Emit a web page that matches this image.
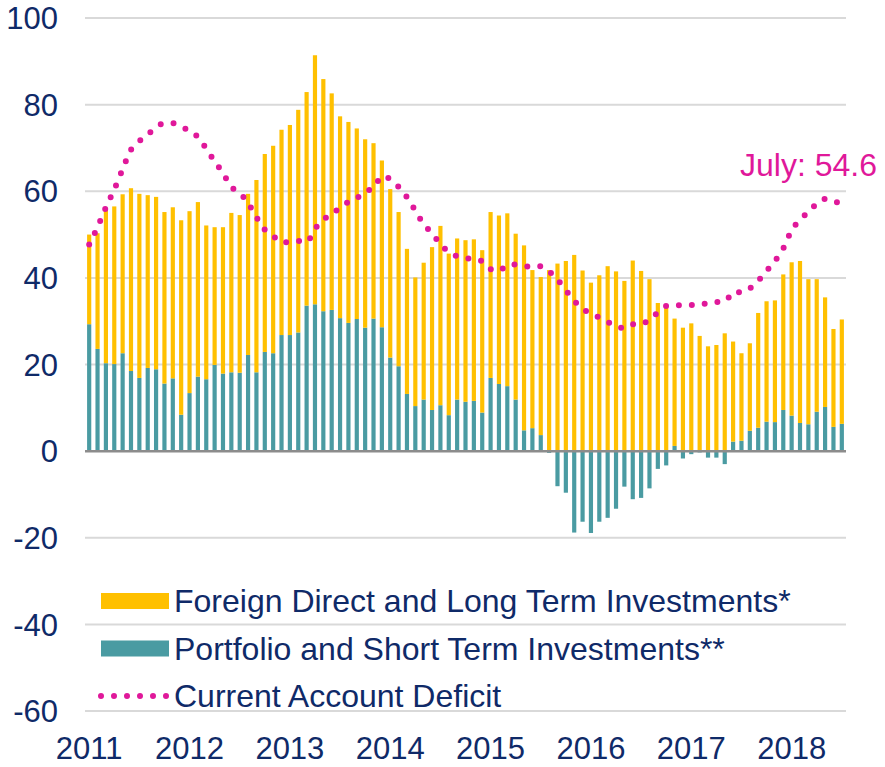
<!DOCTYPE html>
<html>
<head>
<meta charset="utf-8">
<script src="https://cdn.jsdelivr.net/npm/d3@7"></script>
<style>
  body { margin: 0; background: #fff; }
  text { font-family: 'Liberation Sans', Arial, sans-serif; }
</style>
</head>
<body>
<div id="chart"></div>
<script>
// monthly, Jan 2011 .. Jul 2018
const years = ['2011', '2012', '2013', '2014', '2015', '2016', '2017', '2018'];
const yTicks = [-60, -40, -20, 0, 20, 40, 60, 80, 100];

const fdi = [
  20.7, 26.7, 35.7, 36.4, 36.7, 42.2, 42.5, 39.9, 39.8, 39.6, 39.5, 44.9,
  42.0, 40.3, 35.5, 31.8, 33.8, 36.8, 36.4, 37.2, 44.4, 45.7, 47.9, 47.4,
  48.5, 51.4, 49.3, 57.5, 53.6, 50.0, 46.6, 46.4, 44.0, 43.5, 40.5, 38.5,
  38.9, 35.6, 33.5, 29.7, 31.6, 37.6, 41.4, 37.3, 37.2, 37.3, 37.3, 37.5,
  38.3, 38.9, 39.9, 38.3, 42.7, 36.5, 36.5, 41.8, 43.3, 43.9, 45.3, 41.7,
  38.9, 40.6, 42.7, 41.5, 39.3, 44.0, 41.6, 39.7, 34.2, 33.6, 29.4, 28.5,
  29.5, 26.6, 24.2, 24.5, 27.2, 23.1, 20.2, 20.2, 26.5, 27.8, 28.1, 31.3,
  35.4, 37.4, 33.5, 30.6, 25.3, 22.6, 24.1
];

const portfolio = [
  29.3, 23.6, 20.3, 20.1, 22.6, 18.5, 16.9, 19.2, 18.9, 15.6, 16.8, 8.4,
  13.4, 17.2, 16.6, 19.9, 17.9, 18.2, 18.1, 22.2, 18.2, 22.9, 22.6, 26.8,
  26.8, 27.4, 33.6, 33.9, 32.3, 32.6, 30.7, 29.6, 30.5, 28.5, 30.6, 28.6,
  21.6, 19.6, 13.2, 10.4, 11.9, 9.5, 10.6, 8.3, 11.9, 11.4, 11.6, 8.9,
  16.9, 15.5, 15.0, 11.9, 4.8, 5.3, 3.7, -0.4, -8.1, -9.6, -18.8, -16.3,
  -18.9, -16.3, -15.4, -13.3, -8.2, -11.1, -10.8, -8.6, -4.1, -3.3, 1.2, -1.7,
  -0.7, -0.3, -1.5, -1.5, -3.0, 2.2, 2.4, 4.7, 5.4, 6.8, 6.7, 9.5,
  8.2, 6.5, 6.2, 9.1, 10.2, 5.6, 6.3
];

const deficit = [
  47.7, 51.7, 56.3, 60.4, 65.1, 69.6, 71.6, 73.1, 74.8, 75.7, 75.7, 74.8,
  74.0, 72.5, 69.8, 66.9, 64.2, 61.0, 59.6, 57.3, 54.0, 51.1, 49.7, 48.2,
  48.2, 48.5, 48.3, 51.3, 53.5, 54.6, 56.3, 57.5, 58.4, 60.0, 60.7, 63.4,
  62.8, 61.0, 58.6, 55.5, 52.4, 50.3, 47.8, 46.0, 45.0, 44.5, 44.4, 43.8,
  42.0, 41.6, 43.0, 43.1, 42.8, 42.5, 42.7, 41.5, 39.6, 37.1, 34.7, 32.8,
  31.8, 30.8, 29.8, 28.8, 28.4, 29.3, 29.3, 30.5, 32.0, 33.5, 33.8, 33.6,
  33.7, 34.1, 34.0, 34.3, 35.6, 35.3, 37.2, 37.6, 39.3, 41.6, 43.9, 46.8,
  51.0, 53.4, 55.2, 57.1, 58.2, 57.9, 56.5
];

const seriesNames = [
  'Foreign Direct and Long Term Investments*',
  'Portfolio and Short Term Investments**',
  'Current Account Deficit'
];
const lastLabel = 'July: 54.6';

const colors = {
  fdi: '#ffc000',
  portfolio: '#4a9ba2',
  deficit: '#e0189a',
  text: '#0f2a68',
  grid: '#d9d9d9',
  zero: '#8c8c8c',
};

const width = 885;
const height = 767;

const svg = d3
  .select('#chart')
  .append('svg')
  .attr('width', width)
  .attr('height', height);

const months = d3.range(fdi.length);

const x = d3
  .scaleBand()
  .domain(months)
  .range([85, 846])
  .paddingInner(0.5)
  .paddingOuter(0.25);

const y = d3
  .scaleLinear()
  .domain([-60, 100])
  .range([711, 18]);

const cx = i => x(i) + x.bandwidth() / 2;

// gridlines
svg
  .append('g')
  .selectAll('line')
  .data(yTicks.filter(d => d !== 0))
  .enter()
  .append('line')
  .attr('x1', 85)
  .attr('x2', 846)
  .attr('y1', d => y(d))
  .attr('y2', d => y(d))
  .attr('stroke', colors.grid)
  .attr('stroke-width', 2);

// y labels
svg
  .append('g')
  .selectAll('text')
  .data(yTicks)
  .enter()
  .append('text')
  .attr('x', 58)
  .attr('y', d => y(d))
  .attr('dy', '0.36em')
  .attr('text-anchor', 'end')
  .attr('font-size', 31)
  .attr('fill', colors.text)
  .text(d => d);

// stacked bars: fdi sits on portfolio when positive, on zero otherwise
const rows = months.map(i => ({
  i,
  fdi: fdi[i],
  portfolio: portfolio[i],
}));

const stack = d3
  .stack()
  .keys(['portfolio', 'fdi'])
  .offset(d3.stackOffsetDiverging);

const layers = stack(rows);

svg
  .append('g')
  .selectAll('g')
  .data(layers)
  .enter()
  .append('g')
  .attr('fill', d => colors[d.key])
  .selectAll('rect')
  .data(d => d)
  .enter()
  .append('rect')
  .attr('x', d => x(d.data.i))
  .attr('width', x.bandwidth())
  .attr('y', d => y(Math.max(d[0], d[1])))
  .attr('height', d => Math.abs(y(d[0]) - y(d[1])));

// zero line
svg
  .append('line')
  .attr('x1', 85)
  .attr('x2', 846)
  .attr('y1', y(0))
  .attr('y2', y(0))
  .attr('stroke', colors.zero)
  .attr('stroke-width', 2.5);

// current account deficit, dotted
const line = d3
  .line()
  .x((d, i) => cx(i))
  .y(d => y(d))
  .curve(d3.curveMonotoneX);

svg
  .append('path')
  .datum(deficit)
  .attr('d', line)
  .attr('fill', 'none')
  .attr('stroke', colors.deficit)
  .attr('stroke-width', 6)
  .attr('stroke-linecap', 'round')
  .attr('stroke-dasharray', '0,13');

svg
  .append('text')
  .attr('x', 877)
  .attr('y', 176)
  .attr('text-anchor', 'end')
  .attr('font-size', 32)
  .attr('fill', colors.deficit)
  .text(lastLabel);

// x labels at each January
svg
  .append('g')
  .selectAll('text')
  .data(years)
  .enter()
  .append('text')
  .attr('x', (d, k) => cx(k * 12))
  .attr('y', 759)
  .attr('text-anchor', 'middle')
  .attr('font-size', 31)
  .attr('fill', colors.text)
  .text(d => d);

// legend
const legend = svg.append('g');
const rowY = [601, 648.5, 696];

legend
  .append('rect')
  .attr('x', 101)
  .attr('y', rowY[0] - 8)
  .attr('width', 68)
  .attr('height', 16)
  .attr('fill', colors.fdi);

legend
  .append('rect')
  .attr('x', 101)
  .attr('y', rowY[1] - 8)
  .attr('width', 68)
  .attr('height', 16)
  .attr('fill', colors.portfolio);

legend
  .append('line')
  .attr('x1', 101)
  .attr('x2', 167)
  .attr('y1', rowY[2])
  .attr('y2', rowY[2])
  .attr('stroke', colors.deficit)
  .attr('stroke-width', 6)
  .attr('stroke-linecap', 'round')
  .attr('stroke-dasharray', '0,13');

legend
  .selectAll('text')
  .data(seriesNames)
  .enter()
  .append('text')
  .attr('x', 174)
  .attr('y', (d, i) => rowY[i] + 11)
  .attr('font-size', 32)
  .attr('fill', colors.text)
  .text(d => d);
</script>
</body>
</html>
